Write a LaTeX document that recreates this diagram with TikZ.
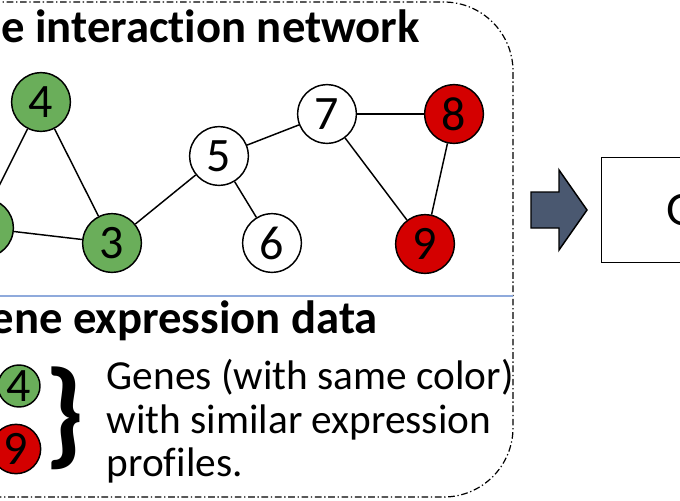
\documentclass[tikz,border=0pt]{standalone}
\usepackage{fontspec}
\setmainfont{Carlito}[RawFeature=-liga]
\usetikzlibrary{positioning}
\definecolor{genegreen}{HTML}{6AAE5A}
\definecolor{genered}{HTML}{D40000}
\definecolor{arrowgray}{HTML}{4A5870}
\definecolor{lineblue}{HTML}{8FAADC}

\begin{document}
\begin{tikzpicture}[x=0.75pt, y=-0.75pt, line width=1.1pt,
    gene/.style={circle, draw, inner sep=0pt, minimum size=44pt, font=\fontsize{36}{36}\selectfont},
    small/.style={gene, minimum size=31.5pt},
    title/.style={anchor=base east, font=\fontsize{35}{35}\selectfont\bfseries}]
  \useasboundingbox (0,0) rectangle (680,500);
  \clip (0,0) rectangle (680,500);

  % frame of the input panel
  \draw[dash pattern=on 5pt off 2pt on 1pt off 2pt, line width=0.9pt, rounded corners=52pt]
    (-300,2) -- (513,2) -- (513,497) -- (-300,497);
  \draw[lineblue, line width=0.9pt] (-20,296) -- (513,296);

  % network
  \node[title] (nettitle) at (425,42) {Gene interaction network};
  \node[gene, fill=genegreen] (2) at (-16,228) {};
  \node[gene, fill=genegreen] (4) at (41,102) {4};
  \node[gene, fill=genegreen] (3) at (112,243) {3};
  \node[gene] (5) at (219,156) {5};
  \node[gene] (6) at (272,243) {6};
  \node[gene] (7) at (327,114) {7};
  \node[gene, fill=genered] (8) at (454,114) {8};
  \node[gene, fill=genered] (9) at (425,244) {9};
  \coordinate (1) at (-58,300);

  \draw (4) edge (1) edge (3);
  \draw (2) edge (3);
  \draw (3) edge (5);
  \draw (5) edge (7) edge (6);
  \draw (7) edge (8) edge (9);
  \draw (8) edge (9);

  % expression data
  \node[title] (exptitle) at (383,333) {Gene expression data};
  \node[small, fill=genegreen] (s4) at (19,386) {4};
  \node[small, fill=genered, minimum size=37pt] (s9) at (16,449) {9};
  \node[font=\fontsize{88}{88}\selectfont\bfseries] (brace) at (65,418) {\}};
  \node[anchor=north west, align=left, inner sep=0pt, font=\fontsize{31}{32.3}\selectfont]
    (legend) at (106,359) {Genes (with same color)\\with similar expression\\profiles.};

  % arrow and next step
  \draw[fill=arrowgray] (531,192) -- (559,192) -- (559,170) -- (587,210)
    -- (559,250) -- (559,228) -- (531,228) -- cycle;
  \node[draw, anchor=north west, minimum width=150pt, minimum height=78.75pt] (box) at (601,157) {};
  \node[anchor=west, inner sep=0pt, font=\fontsize{36}{36}\selectfont] (boxtext) at (666,210) {G};
\end{tikzpicture}
\end{document}
